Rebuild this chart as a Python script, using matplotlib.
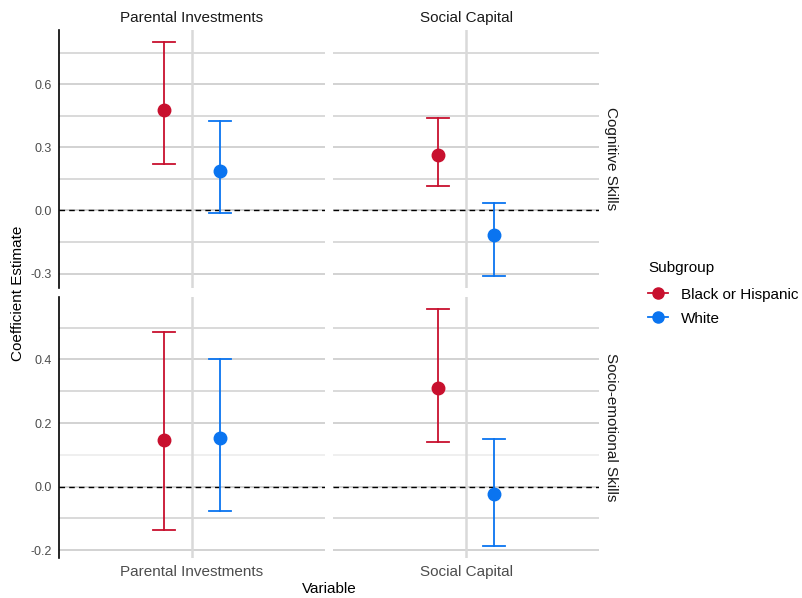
import matplotlib
matplotlib.use("Agg")
import matplotlib.pyplot as plt
import numpy as np
from matplotlib.lines import Line2D

plt.rcParams['font.family'] = ['Liberation Sans', 'DejaVu Sans']
plt.rcParams['axes.unicode_minus'] = False

# Facet layout: rows = outcomes, columns = variables
variables = ["Parental Investments", "Social Capital"]
outcomes = ["Cognitive Skills", "Socio-emotional Skills"]
groups = ["Black or Hispanic", "White"]
group_colors = ["#C8102E", "#0A74F0"]

# estimates [outcome][variable]
est_black = [[0.477, 0.265], [0.148, 0.310]]
lo_black = [[0.222, 0.117], [-0.135, 0.140]]
hi_black = [[0.803, 0.441], [0.487, 0.559]]

est_white = [[0.186, -0.118], [0.153, -0.024]]
lo_white = [[-0.011, -0.313], [-0.076, -0.187]]
hi_white = [[0.427, 0.038], [0.400, 0.149]]

row_ticks = [[-0.3, 0.0, 0.3, 0.6], [-0.2, 0.0, 0.2, 0.4]]
row_minor = [[-0.15, 0.15, 0.45, 0.75], [-0.1, 0.1, 0.3, 0.5]]

est = [est_black, est_white]
lo = [lo_black, lo_white]
hi = [hi_black, hi_white]

W, H = 802, 598
fig = plt.figure(figsize=(W / 100, H / 100), dpi=100)

col_x = [(59, 325), (333, 599)]
row_y = [(30, 288), (297, 558)]

dodge = 0.125
cap = 0.05
grid_col = "#cfcfcf"

for r in range(2):
    # free y scale per row: data range + 5% expansion
    lows = [lo[g][r][c] for g in range(2) for c in range(2)]
    highs = [hi[g][r][c] for g in range(2) for c in range(2)]
    ymin, ymax = min(lows), max(highs)
    pad = 0.05 * (ymax - ymin)
    for c in range(2):
        x0, x1 = col_x[c]
        y0, y1 = row_y[r]
        ax = fig.add_axes([x0 / W, 1 - y1 / H, (x1 - x0) / W, (y1 - y0) / H])
        ax.set_xlim(0.4, 1.6)
        ax.set_ylim(ymin - pad, ymax + pad)
        for s in ax.spines.values():
            s.set_visible(False)
        if c == 0:
            ax.spines['left'].set_visible(True)
            ax.spines['left'].set_color("black")
            ax.spines['left'].set_linewidth(1.2)

        # grid
        for v in row_ticks[r]:
            ax.axhline(v, color=grid_col, lw=1.3, zorder=0)
        for v in row_minor[r]:
            mc = "#ebebeb" if (r == 1 and v == 0.1) else grid_col
            ax.axhline(v, color=mc, lw=1.1, zorder=0)
        ax.axvline(1, color="#d9d9d9", lw=1.8, zorder=0)

        ax.axhline(0, color="black", lw=1.0, ls=(0, (4, 3)), zorder=1)

        for g in range(2):
            xpos = 1 + (dodge if g == 1 else -dodge)
            e = est[g][r][c]
            l = lo[g][r][c]
            h = hi[g][r][c]
            col = group_colors[g]
            ax.plot([xpos, xpos], [l, h], color=col, lw=1.3, zorder=2)
            ax.plot([xpos - cap, xpos + cap], [l, l], color=col, lw=1.3, zorder=2)
            ax.plot([xpos - cap, xpos + cap], [h, h], color=col, lw=1.3, zorder=2)
            ax.plot([xpos], [e], marker="o", ms=9, color=col, mec=col, zorder=3)

        ax.set_yticks(row_ticks[r])
        ax.set_yticklabels([f"{v:.1f}" for v in row_ticks[r]])
        ax.tick_params(axis='both', length=0, labelsize=9, labelcolor="#4d4d4d", pad=5)
        if c != 0:
            ax.set_yticklabels([])
        ax.set_xticks([1])
        if r == 1:
            ax.set_xticklabels([variables[c]], fontsize=11)
        else:
            ax.set_xticklabels([])

        if r == 0:
            ax.set_title(variables[c], fontsize=11, color="#1a1a1a", pad=6)
        if c == 1:
            ax.text(1.018, 0.5, outcomes[r], transform=ax.transAxes, rotation=-90,
                    ha="left", va="center", fontsize=11, color="#1a1a1a")

fig.text(18 / W, 1 - 293 / H, "Coefficient Estimate", rotation=90, ha="center",
         va="center", fontsize=11)
fig.text(329 / W, 1 - 589 / H, "Variable", ha="center", va="center", fontsize=11)

handles = [Line2D([0], [0], color=group_colors[g], lw=1.3, marker="o", ms=8)
           for g in range(2)]
leg = fig.legend(handles, groups, title="Subgroup", loc="upper left",
                 bbox_to_anchor=(642 / W, 1 - 255 / H), frameon=False,
                 fontsize=11, title_fontsize=11, handlelength=1.3,
                 handletextpad=0.85, labelspacing=0.65, borderaxespad=0.0,
                 borderpad=0.4)
leg._legend_box.align = "left"
leg._legend_box.sep = 9

fig.savefig("out.png", dpi=100)
